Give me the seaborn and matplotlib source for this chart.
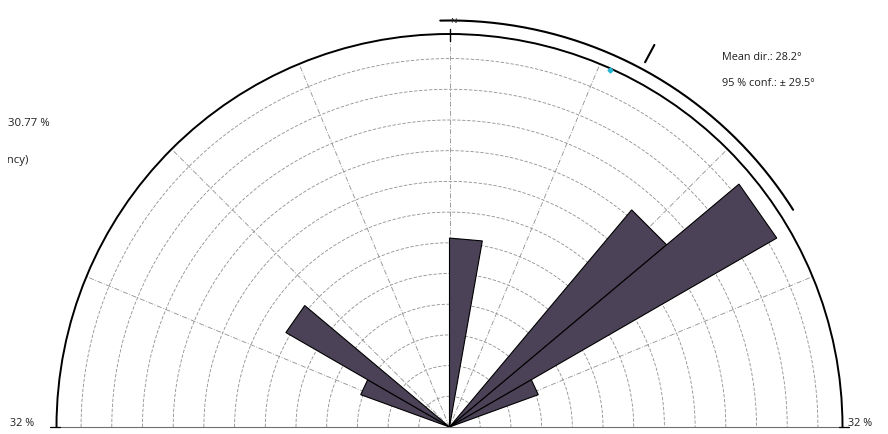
import numpy as np
import matplotlib
matplotlib.use("Agg")
import matplotlib.pyplot as plt
from matplotlib.transforms import Bbox
import seaborn as sns

# Orientation data: 10-degree classes (class start, degrees from N) and counts
class_start = [-70, -60, 0, 40, 50, 60]
class_count = [1, 2, 2, 3, 4, 1]
class_width = 10
n_total = 13

# Circular statistics
mean_dir = 28.2
conf_95 = 29.5

# Scale of the diagram (percent)
r_max = 32
ring_step = 2.5
spoke_step = 22.5

freq = [c / n_total * 100 for c in class_count]

sns.set_theme(style="white")
plt.rcParams["font.family"] = ["Open Sans", "DejaVu Sans"]

W, H = 888, 434
fig = plt.figure(figsize=(W / 100, H / 100), dpi=100)
fig.patch.set_facecolor("white")

# square polar box; the half-disc sits in its middle, pole at (449, 427) px
side = 786
cx, cy = 449.5, 427
ax = fig.add_axes([(cx - side / 2) / W, (H - cy - side / 4) / H,
                   side / W, side / H], projection="polar")
ax.set_theta_zero_location("N")
ax.set_theta_direction(-1)
ax.set_thetamin(-90)
ax.set_thetamax(90)
ax.set_ylim(0, r_max)
ax.grid(False)
ax.set_xticks([])
ax.set_yticks([])
ax.set_facecolor("white")
ax.spines["polar"].set_color("black")
ax.spines["polar"].set_linewidth(1.4)
for s in ("start", "end"):
    ax.spines[s].set_color("#6f6f6f")
    ax.spines[s].set_linewidth(0.8)

grid_col = "#8f8f8f"
theta_full = np.radians(np.linspace(-90, 90, 361))

# concentric frequency rings
for r in np.arange(ring_step, r_max - 1, ring_step):
    ax.plot(theta_full, np.full_like(theta_full, r), color=grid_col,
            lw=0.6, ls=(0, (4, 2)), zorder=1)

# radial spokes
for a in np.arange(-90 + spoke_step, 90, spoke_step):
    ax.plot([np.radians(a)] * 2, [0, r_max], color=grid_col, lw=0.6,
            ls=(0, (6, 2, 1, 2)), zorder=1)

# rose petals: triangles from the pole with a straight outer edge
for start, f in zip(class_start, freq):
    t0, t1 = np.radians(start), np.radians(start + class_width)
    ax.fill([t0, t0, t1], [0, f, f], facecolor="#4b4257",
            edgecolor="black", linewidth=0.8, zorder=3)

# 95 % confidence arc and mean direction
conf_theta = np.radians(np.linspace(mean_dir - conf_95, mean_dir + conf_95, 200))
ax.plot(conf_theta, np.full_like(conf_theta, 33.1), color="black", lw=1.5,
        clip_on=False, zorder=4)
ax.plot([np.radians(mean_dir)] * 2, [33.7, 35.3], color="black", lw=1.5,
        clip_on=False, zorder=4)
ax.plot([np.radians(24.2)], [r_max - 0.1], marker="D", ms=2.5,
        color="#25b7d3", clip_on=False, zorder=5)

# north tick and label
ax.plot([0, 0], [31.4, 32.4], color="black", lw=1.0, clip_on=False, zorder=4)
ax.text(np.radians(0.6), 33.0, "N", fontsize=6, ha="center", va="center",
        color="#222222", zorder=5)

# baseline end ticks
for a in (-90, 90):
    ax.plot([np.radians(a)] * 2, [r_max - 0.3, r_max + 0.5], color="black",
            lw=0.9, clip_on=False, zorder=4)

def ftxt(x, y, s, **kw):
    return fig.text(x / W, 1 - y / H, s, va="center", color="#1f1f1f", **kw)

ftxt(722, 57, f"Mean dir.: {mean_dir}°", fontsize=7.8)
ftxt(722, 84, f"95 % conf.: ± {conf_95}°", fontsize=7.8)
ftxt(8, 124, f"{max(freq):.2f} %", fontsize=8.2)
lab = ftxt(29, 160, "(frequency)", fontsize=8.2, ha="right")
lab.set_clip_box(Bbox.from_extents(8, 0, W, H))
lab.set_clip_on(True)
ftxt(10, 424, f"{r_max} %", fontsize=7.8)
ftxt(848, 424, f"{r_max} %", fontsize=7.8)

fig.savefig("out.png", dpi=100, facecolor="white")
